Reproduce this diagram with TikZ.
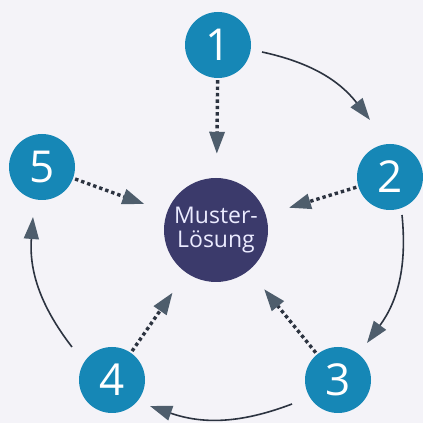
\documentclass[tikz,border=0pt]{standalone}
\usepackage{fontspec}
\setmainfont{Open Sans}
\usetikzlibrary{arrows.meta}
\definecolor{teal1}{HTML}{1687B6}
\definecolor{navy1}{HTML}{3B3A6B}
\definecolor{tipfill}{HTML}{4E5D6C}
\definecolor{linec}{HTML}{2C3340}
\definecolor{bg}{HTML}{F4F3F8}
\tikzset{
  numnode/.style={circle, fill=teal1, minimum size=66pt, inner sep=0pt, text=white, font=\fontsize{44}{44}\selectfont},
  centernode/.style={circle, fill=navy1, minimum size=104pt, inner sep=0pt, text=white!92!blue, align=center, font=\fontsize{23}{24}\selectfont},
  bigtip/.style={-{Triangle[length=22pt,width=15pt,fill=tipfill,color=tipfill]}},
  arcarrow/.style={bigtip, draw=linec, line width=1.6pt},
  dotarrow/.style={bigtip, draw=linec, line width=3.4pt, dash pattern=on 3.4pt off 3pt, shorten <=2pt, shorten >=24pt}
}
\begin{document}
\begin{tikzpicture}[x=1pt,y=1pt]
\fill[bg] (0,0) rectangle (423,423);
\useasboundingbox (0,0) rectangle (423,423);

\node[centernode] (o) at (216,193) {Muster-\\Lösung};
\node[numnode] (n1) at (218,378) {1};
\node[numnode] (n2) at (390,246) {2};
\node[numnode] (n3) at (338,43) {3};
\node[numnode] (n4) at (112,43) {4};
\node[numnode] (n5) at (42,256) {5};

\coordinate (a12s) at (262,371);
\coordinate (a12e) at (370,303);
\coordinate (a23s) at (402,208);
\coordinate (a23e) at (367,80);
\coordinate (a34s) at (292,19);
\coordinate (a34e) at (150,17);
\coordinate (a45s) at (72,76);
\coordinate (a45e) at (33,206);

\draw[arcarrow] (a12s) to[bend left=20] (a12e);
\draw[arcarrow] (a23s) to[bend left=21] (a23e);
\draw[arcarrow] (a34s) to[bend left=20] (a34e);
\draw[arcarrow] (a45s) to[bend left=21] (a45e);

\draw[dotarrow] (n1) -- (o);
\draw[dotarrow] (n2) -- (o);
\draw[dotarrow] (n3) -- (o);
\draw[dotarrow] (n4) -- (o);
\draw[dotarrow] (n5) -- (o);
\end{tikzpicture}
\end{document}
